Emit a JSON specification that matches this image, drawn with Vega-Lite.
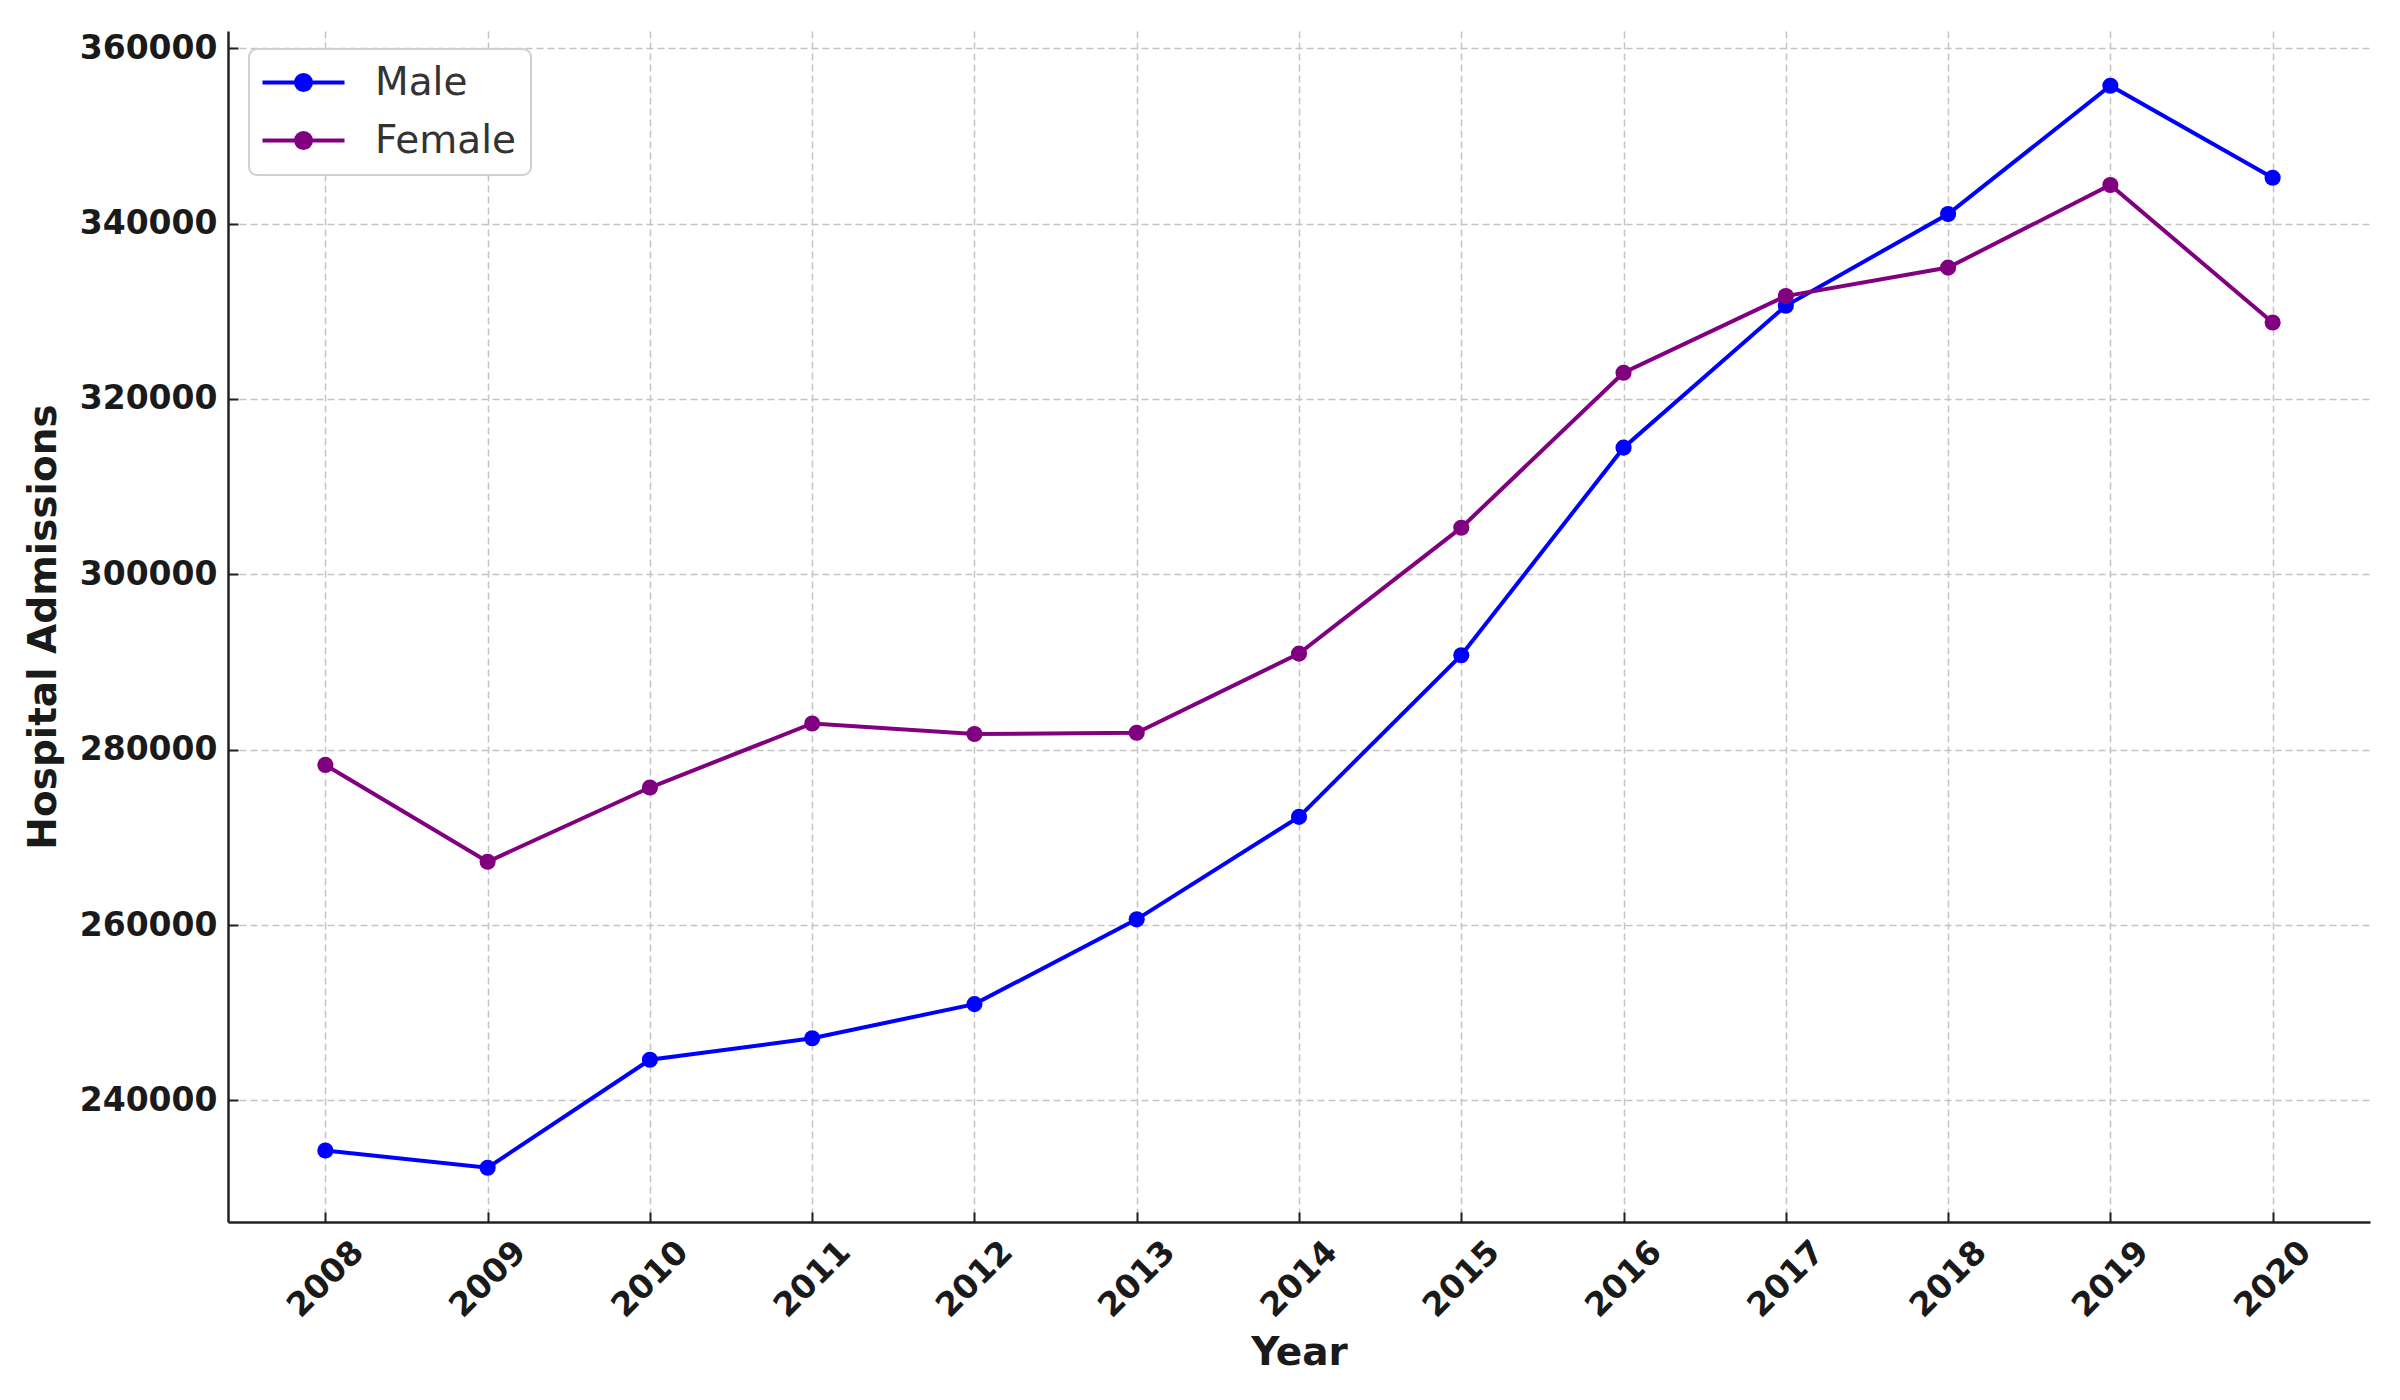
{
  "$schema": "https://vega.github.io/schema/vega-lite/v6.json",
  "autosize": {"type": "none"},
  "width": 2142,
  "height": 1191,
  "padding": {"left": 228, "top": 31, "right": 30, "bottom": 178},
  "background": "white",
  "config": {
    "view": {"stroke": null},
    "font": "DejaVu Sans",
    "legend": {"strokeWidth": 2},
    "axis": {
      "domainColor": "#222222",
      "domainWidth": 2.5,
      "tickColor": "#222222",
      "tickWidth": 2,
      "tickSize": -10,
      "gridColor": "#c4c4c4",
      "gridDash": [7, 4],
      "gridWidth": 1.5,
      "labelFont": "DejaVu Sans",
      "labelFontWeight": "bold",
      "labelFontSize": 33,
      "labelColor": "#1a1a1a",
      "titleFont": "DejaVu Sans",
      "titleFontWeight": "bold",
      "titleFontSize": 39,
      "titleColor": "#1a1a1a"
    }
  },
  "data": {
    "values": [
      {"Year": 2008, "Gender": "Male", "Admissions": 234280},
      {"Year": 2009, "Gender": "Male", "Admissions": 232310},
      {"Year": 2010, "Gender": "Male", "Admissions": 244630},
      {"Year": 2011, "Gender": "Male", "Admissions": 247080},
      {"Year": 2012, "Gender": "Male", "Admissions": 250980},
      {"Year": 2013, "Gender": "Male", "Admissions": 260650},
      {"Year": 2014, "Gender": "Male", "Admissions": 272330},
      {"Year": 2015, "Gender": "Male", "Admissions": 290770},
      {"Year": 2016, "Gender": "Male", "Admissions": 314450},
      {"Year": 2017, "Gender": "Male", "Admissions": 330630},
      {"Year": 2018, "Gender": "Male", "Admissions": 341100},
      {"Year": 2019, "Gender": "Male", "Admissions": 355730},
      {"Year": 2020, "Gender": "Male", "Admissions": 345240},
      {"Year": 2008, "Gender": "Female", "Admissions": 278260},
      {"Year": 2009, "Gender": "Female", "Admissions": 267220},
      {"Year": 2010, "Gender": "Female", "Admissions": 275680},
      {"Year": 2011, "Gender": "Female", "Admissions": 282990},
      {"Year": 2012, "Gender": "Female", "Admissions": 281790},
      {"Year": 2013, "Gender": "Female", "Admissions": 281930},
      {"Year": 2014, "Gender": "Female", "Admissions": 290960},
      {"Year": 2015, "Gender": "Female", "Admissions": 305320},
      {"Year": 2016, "Gender": "Female", "Admissions": 323000},
      {"Year": 2017, "Gender": "Female", "Admissions": 331740},
      {"Year": 2018, "Gender": "Female", "Admissions": 334990},
      {"Year": 2019, "Gender": "Female", "Admissions": 344410},
      {"Year": 2020, "Gender": "Female", "Admissions": 328720}
    ]
  },
  "mark": {"type": "line", "strokeWidth": 4, "point": {"filled": true, "size": 260}},
  "encoding": {
    "x": {
      "field": "Year",
      "type": "quantitative",
      "scale": {"domain": [2007.4, 2020.6], "nice": false, "zero": false},
      "axis": {
        "values": [2008, 2009, 2010, 2011, 2012, 2013, 2014, 2015, 2016, 2017, 2018, 2019, 2020],
        "format": "d",
        "labelAngle": -45,
        "labelAlign": "center",
        "labelBaseline": "middle",
        "labelPadding": 67,
        "title": "Year",
        "titlePadding": 10
      }
    },
    "y": {
      "field": "Admissions",
      "type": "quantitative",
      "scale": {"domain": [226125, 361975], "nice": false, "zero": false},
      "axis": {
        "values": [240000, 260000, 280000, 300000, 320000, 340000, 360000],
        "format": "d",
        "labelPadding": 21,
        "title": "Hospital Admissions",
        "titlePadding": 16
      }
    },
    "color": {
      "field": "Gender",
      "type": "nominal",
      "scale": {"domain": ["Male", "Female"], "range": ["#0000ff", "#800080"]},
      "legend": {
        "title": null,
        "orient": "none",
        "legendX": 21,
        "legendY": 18,
        "padding": 14,
        "cornerRadius": 8,
        "strokeColor": "#d0d0d0",
        "fillColor": "white",
        "symbolType": "M-2.5,0L2.5,0M0.457,0A0.457,0.457,0,1,1,-0.457,0A0.457,0.457,0,1,1,0.457,0Z",
        "symbolSize": 1076,
        "symbolStrokeWidth": 4,
        "symbolOffset": 21,
        "labelFont": "DejaVu Sans",
        "labelFontSize": 39,
        "labelColor": "#333333",
        "labelOffset": 52,
        "rowPadding": 18
      }
    }
  }
}
